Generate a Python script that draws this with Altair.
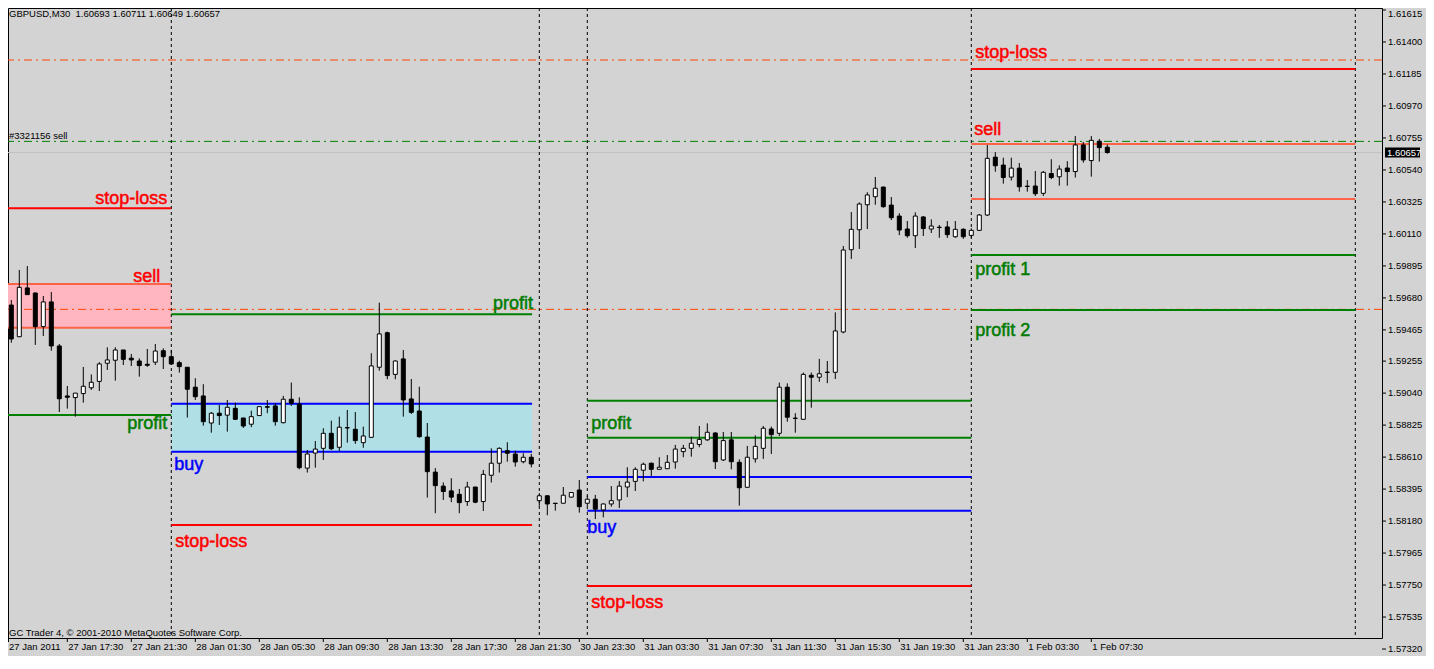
import altair as alt
import pandas as pd

# ---------------- data ----------------
bar_index = list(range(139))
opens = [1.59527, 1.59632, 1.59419, 1.59747, 1.59713, 1.59487, 1.59653, 1.59357, 1.59021, 1.59010,
         1.59037, 1.59076, 1.59119, 1.59241, 1.59261, 1.59330, 1.59275, 1.59256, 1.59234, 1.59248,
         1.59325, 1.59285, 1.59245, 1.59214, 1.59080, 1.59021, 1.58839, 1.58905, 1.58892, 1.58938,
         1.58873, 1.58831, 1.58889, 1.58949, 1.58954, 1.58841, 1.58999, 1.58967, 1.58536, 1.58637,
         1.58669, 1.58770, 1.58676, 1.58808, 1.58797, 1.58707, 1.58743, 1.59214, 1.59446, 1.59166,
         1.59270, 1.59001, 1.58920, 1.58745, 1.58509, 1.58415, 1.58383, 1.58360, 1.58311, 1.58409,
         1.58311, 1.58488, 1.58569, 1.58653, 1.58631, 1.58579, 1.58609, 1.58317, 1.58350, 1.58300,
         1.58300, 1.58341, 1.58389, 1.58300, 1.58327, 1.58255, 1.58295, 1.58322, 1.58409, 1.58447,
         1.58522, 1.58569, 1.58528, 1.58532, 1.58577, 1.58647, 1.58669, 1.58695, 1.58726, 1.58772,
         1.58591, 1.58726, 1.58575, 1.58407, 1.58598, 1.58669, 1.58799, 1.58770, 1.59080, 1.58872,
         1.58864, 1.59160, 1.59147, 1.59181, 1.59180, 1.59451, 1.60004, 1.60138, 1.60306, 1.60360,
         1.60425, 1.60304, 1.60230, 1.60143, 1.60098, 1.60224, 1.60143, 1.60155, 1.60157, 1.60091,
         1.60141, 1.60100, 1.60134, 1.60237, 1.60626, 1.60573, 1.60492, 1.60552, 1.60431, 1.60432,
         1.60383, 1.60516, 1.60494, 1.60553, 1.60529, 1.60708, 1.60603, 1.60733, 1.60693]
highs = [1.59626, 1.59666, 1.59868, 1.59894, 1.59716, 1.59693, 1.59720, 1.59370, 1.59088, 1.59040,
         1.59216, 1.59166, 1.59248, 1.59348, 1.59348, 1.59330, 1.59303, 1.59274, 1.59337, 1.59370,
         1.59341, 1.59330, 1.59258, 1.59214, 1.59140, 1.59100, 1.58913, 1.58960, 1.58994, 1.58976,
         1.58873, 1.58922, 1.58949, 1.58994, 1.58972, 1.59021, 1.59111, 1.59012, 1.58658, 1.58718,
         1.58804, 1.58855, 1.58882, 1.58927, 1.58913, 1.58815, 1.59308, 1.59648, 1.59453, 1.59260,
         1.59330, 1.59135, 1.59083, 1.58839, 1.58536, 1.58440, 1.58468, 1.58396, 1.58444, 1.58409,
         1.58524, 1.58669, 1.58676, 1.58710, 1.58653, 1.58636, 1.58631, 1.58368, 1.58355, 1.58302,
         1.58409, 1.58375, 1.58456, 1.58350, 1.58356, 1.58298, 1.58415, 1.58449, 1.58542, 1.58542,
         1.58573, 1.58573, 1.58609, 1.58624, 1.58692, 1.58692, 1.58747, 1.58819, 1.58837, 1.58778,
         1.58779, 1.58779, 1.58595, 1.58685, 1.58756, 1.58819, 1.58815, 1.59111, 1.59106, 1.58905,
         1.59178, 1.59178, 1.59270, 1.59256, 1.59583, 1.60029, 1.60257, 1.60322, 1.60390, 1.60493,
         1.60428, 1.60358, 1.60249, 1.60197, 1.60255, 1.60230, 1.60208, 1.60170, 1.60197, 1.60197,
         1.60148, 1.60148, 1.60244, 1.60708, 1.60660, 1.60622, 1.60622, 1.60587, 1.60472, 1.60533,
         1.60533, 1.60612, 1.60571, 1.60599, 1.60768, 1.60728, 1.60768, 1.60748, 1.60711]
lows = [1.59444, 1.59379, 1.59417, 1.59700, 1.59364, 1.59424, 1.59325, 1.58913, 1.58936, 1.58882,
        1.58976, 1.59061, 1.59054, 1.59196, 1.59124, 1.59229, 1.59222, 1.59151, 1.59217, 1.59229,
        1.59202, 1.59229, 1.59178, 1.58876, 1.58994, 1.58821, 1.58774, 1.58826, 1.58781, 1.58860,
        1.58806, 1.58811, 1.58887, 1.58905, 1.58821, 1.58837, 1.58954, 1.58528, 1.58506, 1.58539,
        1.58591, 1.58658, 1.58651, 1.58707, 1.58699, 1.58673, 1.58740, 1.59191, 1.59133, 1.59133,
        1.58882, 1.58900, 1.58741, 1.58338, 1.58233, 1.58322, 1.58307, 1.58233, 1.58282, 1.58300,
        1.58248, 1.58439, 1.58506, 1.58579, 1.58546, 1.58568, 1.58541, 1.58282, 1.58219, 1.58250,
        1.58298, 1.58338, 1.58237, 1.58282, 1.58194, 1.58205, 1.58277, 1.58268, 1.58341, 1.58382,
        1.58447, 1.58483, 1.58526, 1.58530, 1.58532, 1.58609, 1.58613, 1.58676, 1.58719, 1.58530,
        1.58584, 1.58528, 1.58284, 1.58405, 1.58573, 1.58598, 1.58631, 1.58752, 1.58848, 1.58774,
        1.58860, 1.58942, 1.59116, 1.59107, 1.59135, 1.59442, 1.59942, 1.60009, 1.60143, 1.60306,
        1.60286, 1.60203, 1.60102, 1.60084, 1.60015, 1.60096, 1.60116, 1.60084, 1.60083, 1.60084,
        1.60077, 1.60083, 1.60130, 1.60230, 1.60528, 1.60448, 1.60469, 1.60394, 1.60394, 1.60365,
        1.60365, 1.60478, 1.60434, 1.60434, 1.60489, 1.60589, 1.60495, 1.60596, 1.60649]
closes = [1.59554, 1.59404, 1.59751, 1.59702, 1.59487, 1.59653, 1.59357, 1.59002, 1.59012, 1.59040,
          1.59086, 1.59113, 1.59236, 1.59263, 1.59330, 1.59267, 1.59263, 1.59225, 1.59227, 1.59323,
          1.59285, 1.59236, 1.59218, 1.59066, 1.59016, 1.58848, 1.58905, 1.58889, 1.58945, 1.58864,
          1.58819, 1.58882, 1.58949, 1.58945, 1.58848, 1.58999, 1.58972, 1.58539, 1.58631, 1.58664,
          1.58770, 1.58666, 1.58811, 1.58806, 1.58721, 1.58752, 1.59223, 1.59438, 1.59158, 1.59256,
          1.58994, 1.58911, 1.58747, 1.58512, 1.58418, 1.58379, 1.58341, 1.58304, 1.58409, 1.58307,
          1.58494, 1.58569, 1.58669, 1.58636, 1.58577, 1.58609, 1.58564, 1.58350, 1.58295, 1.58298,
          1.58354, 1.58372, 1.58277, 1.58327, 1.58260, 1.58295, 1.58317, 1.58415, 1.58442, 1.58528,
          1.58562, 1.58528, 1.58542, 1.58575, 1.58664, 1.58669, 1.58703, 1.58729, 1.58777, 1.58579,
          1.58721, 1.58579, 1.58404, 1.58609, 1.58682, 1.58804, 1.58761, 1.59080, 1.58878, 1.58870,
          1.59166, 1.59147, 1.59170, 1.59179, 1.59458, 1.60002, 1.60141, 1.60311, 1.60372, 1.60417,
          1.60293, 1.60219, 1.60136, 1.60098, 1.60230, 1.60146, 1.60163, 1.60153, 1.60105, 1.60141,
          1.60091, 1.60134, 1.60237, 1.60618, 1.60568, 1.60489, 1.60552, 1.60427, 1.60429, 1.60380,
          1.60524, 1.60489, 1.60546, 1.60529, 1.60708, 1.60607, 1.60739, 1.60690, 1.60657]

time_labels = ["27 Jan 2011", "27 Jan 17:30", "27 Jan 21:30", "28 Jan 01:30", "28 Jan 05:30",
               "28 Jan 09:30", "28 Jan 13:30", "28 Jan 17:30", "28 Jan 21:30", "30 Jan 23:30",
               "31 Jan 03:30", "31 Jan 07:30", "31 Jan 11:30", "31 Jan 15:30", "31 Jan 19:30",
               "31 Jan 23:30", "1 Feb 03:30", "1 Feb 07:30"]
time_label_bars = [0, 8, 16, 24, 32, 40, 48, 56, 64, 72, 80, 88, 96, 104, 112, 120, 128, 136]
price_ticks = [1.61615, 1.61400, 1.61185, 1.60970, 1.60755, 1.60540, 1.60325, 1.60110, 1.59895,
               1.59680, 1.59465, 1.59255, 1.59040, 1.58825, 1.58610, 1.58395, 1.58180, 1.57965,
               1.57750, 1.57535, 1.57320]

# zones (filled bands)
band_start = [0, 21]
band_end = [21, 66.1]
band_top = [1.59773, 1.58969]
band_bottom = [1.59480, 1.58646]
band_kind = ["sell", "buy"]

# level segments
seg_start = [0, 0, 0, 0, 21, 21, 21, 21, 73, 73, 73, 73, 73, 121, 121, 121, 121, 121]
seg_end = [21, 21, 21, 21, 66.1, 66.1, 66.1, 66.1, 121, 121, 121, 121, 121, 169, 169, 169, 169, 169]
seg_price = [1.60282, 1.59773, 1.59480, 1.58893, 1.59570, 1.58969, 1.58646, 1.58154,
             1.58989, 1.58740, 1.58476, 1.58250, 1.57744,
             1.61218, 1.60714, 1.60345, 1.59968, 1.59599]
seg_kind = ["stop", "sell", "sell", "profit", "profit", "buy", "buy", "stop",
            "profit", "profit", "buy", "buy", "stop",
            "stop", "sell", "sell", "profit", "profit"]

# full-width horizontal lines
orange_lines = [1.61279, 1.59603]
order_line = [1.60732]
bid_price = [1.60657]

# vertical separators (bar positions)
separators = [21, 67, 73, 121, 169]

# level labels: text, anchor bar (zone edge), price of its line
label_text = ["stop-loss", "sell", "profit", "profit", "buy", "stop-loss", "profit", "buy",
              "stop-loss", "stop-loss", "sell", "profit 1", "profit 2"]
label_bar = [21, 21, 21, 66.1, 21, 21, 73, 73, 73, 121, 121, 121, 121]
label_price = [1.60282, 1.59773, 1.58893, 1.59570, 1.58646, 1.58154, 1.58740, 1.58250, 1.57744,
               1.61218, 1.60714, 1.59968, 1.59599]
label_kind = ["stop", "stop", "profit", "profit", "buy", "stop", "profit", "buy", "stop",
              "stop", "stop", "profit", "profit"]

# ---------------- styling ----------------
W, H = 1374, 630
BG = "#D3D3D3"
SMALL = "Liberation Sans"
Y_MIN, Y_MAX = 1.573942, 1.616284
xs = alt.Scale(domain=[0.5875, 0.5875 + W / 8.0], nice=False, zero=False, padding=0)
ys = alt.Scale(domain=[Y_MIN, Y_MAX], nice=False, zero=False, padding=0)
kind_scale = alt.Scale(domain=["stop", "sell", "profit", "buy"],
                       range=["#FF0000", "#FF6347", "#008000", "#0000FF"])
label_scale = alt.Scale(domain=["stop", "profit", "buy"], range=["#FF0000", "#007800", "#0000FF"])
# label style: align, dx, dy
label_style = [("right", -4, -4), ("right", -11, -2), ("right", -4, 14), ("right", 1, -5),
               ("left", 3, 18), ("left", 4, 22), ("left", 4, -9), ("left", 0, 22),
               ("left", 4, 22), ("left", 4, -11), ("left", 3, -9), ("left", 4, 20), ("left", 4, 26)]


def X(field):
    return alt.X(field, type="quantitative", scale=xs, axis=None)


def Y(field):
    return alt.Y(field, type="quantitative", scale=ys, axis=None)


candles = pd.DataFrame({"bar": bar_index, "open": opens, "high": highs, "low": lows, "close": closes})
bands = pd.DataFrame({"s": band_start, "e": band_end, "t": band_top, "b": band_bottom, "k": band_kind})
segs = pd.DataFrame({"s": seg_start, "e": seg_end, "p": seg_price, "k": seg_kind})

band_layer = alt.Chart(bands).mark_rect(clip=True).encode(
    x=X("s:Q"), x2="e:Q", y=Y("t:Q"), y2="b:Q",
    fill=alt.Fill("k:N", scale=alt.Scale(domain=["sell", "buy"], range=["#FFB6C1", "#B0E0E6"]), legend=None))

orange_layer = alt.Chart(pd.DataFrame({"p": orange_lines})).mark_rule(
    color="#FF4500", strokeWidth=1, strokeDash=[8, 4, 2, 4], clip=True).encode(y=Y("p:Q"))
order_layer = alt.Chart(pd.DataFrame({"p": order_line})).mark_rule(
    color="#008000", strokeWidth=1, strokeDash=[8, 4, 2, 4], clip=True).encode(y=Y("p:Q"))
bid_layer = alt.Chart(pd.DataFrame({"p": bid_price})).mark_rule(
    color="#C0C0C0", strokeWidth=1, clip=True).encode(y=Y("p:Q"))
sep_layer = alt.Chart(pd.DataFrame({"b": separators})).mark_rule(
    color="black", strokeWidth=1, strokeDash=[3, 3], clip=True).encode(x=X("b:Q"))

seg_layer = alt.Chart(segs).mark_rule(strokeWidth=2, clip=True).encode(
    x=X("s:Q"), x2="e:Q", y=Y("p:Q"),
    color=alt.Color("k:N", scale=kind_scale, legend=None))

wick_layer = alt.Chart(candles).mark_rule(color="black", strokeWidth=1, clip=True).encode(
    x=X("bar:Q"), y=Y("low:Q"), y2="high:Q")
body_layer = alt.Chart(candles).mark_bar(width=4, stroke="black", strokeWidth=1, clip=True).encode(
    x=X("bar:Q"), y=Y("open:Q"), y2="close:Q",
    fill=alt.condition("datum.close >= datum.open", alt.value("white"), alt.value("black")))

label_layers = []
for t, b, p, k, (al, dx, dy) in zip(label_text, label_bar, label_price, label_kind, label_style):
    df = pd.DataFrame({"t": [t], "b": [b], "p": [p], "k": [k]})
    label_layers.append(alt.Chart(df).mark_text(
        align=al, dx=dx, dy=dy, baseline="alphabetic", font="Liberation Sans", fontSize=18,
        strokeWidth=0.5).encode(
        x=X("b:Q"), y=Y("p:Q"), text="t:N",
        color=alt.Color("k:N", scale=label_scale, legend=None),
        stroke=alt.Stroke("k:N", scale=label_scale, legend=None)))

# ----- hand-drawn axes (price axis on the right, time axis at the bottom) -----
ytick_df = pd.DataFrame({"p": price_ticks})
ytick_marks = alt.Chart(ytick_df).mark_rule(
    color="black", strokeWidth=1).encode(x=alt.value(W), x2=alt.value(W + 4), y=Y("p:Q"))
# labels centred on their tick
ytick_text = alt.Chart(ytick_df).transform_filter("datum.p < 1.6155").mark_text(
    align="left", baseline="middle", font=SMALL, fontSize=9.5, color="black").encode(
    x=alt.value(W + 6), y=Y("p:Q"), text=alt.Text("p:Q", format=".5f"))
# the topmost label sits just below its tick so that it is not cut by the top edge
ytick_top = alt.Chart(ytick_df).transform_filter("datum.p >= 1.6155").mark_text(
    align="left", baseline="top", font=SMALL, fontSize=9.5, color="black", dy=-1).encode(
    x=alt.value(W + 6), y=Y("p:Q"), text=alt.Text("p:Q", format=".5f"))

xt_df = pd.DataFrame({"b": time_label_bars[1:], "t": time_labels[1:]})
xtick_marks = alt.Chart(xt_df).mark_rule(color="black", strokeWidth=1).encode(
    x=X("b:Q"), y=alt.value(H), y2=alt.value(H + 4))
xtick_text = alt.Chart(xt_df).mark_text(
    align="left", baseline="top", font=SMALL, fontSize=9.5, color="black", dx=1).encode(
    x=X("b:Q"), y=alt.value(H + 4), text="t:N")
first_label = alt.Chart(pd.DataFrame({"t": time_labels[:1]})).mark_text(
    align="left", baseline="top", font=SMALL, fontSize=9.5, color="black").encode(
    x=alt.value(1), y=alt.value(H + 4), text="t:N")
first_tick = alt.Chart(pd.DataFrame({"t": time_labels[:1]})).mark_rule(color="black").encode(
    x=alt.value(0.5), y=alt.value(H), y2=alt.value(H + 4))

title_layer = alt.Chart(pd.DataFrame({"t": ["GBPUSD,M30\u00a0\u00a01.60693 1.60711 1.60649 1.60657"]})).mark_text(
    align="left", baseline="top", font=SMALL, fontSize=9.5, color="black").encode(
    text="t:N", x=alt.value(1), y=alt.value(1))
copy_layer = alt.Chart(pd.DataFrame({"t": ["GC Trader 4, \u00a9 2001-2010 MetaQuotes Software Corp."]})).mark_text(
    align="left", baseline="alphabetic", font=SMALL, fontSize=9.5, color="black").encode(
    text="t:N", x=alt.value(1), y=alt.value(H - 2))
order_text = alt.Chart(pd.DataFrame({"t": ["#3321156 sell"]})).mark_text(
    align="left", baseline="alphabetic", font=SMALL, fontSize=9.5, color="black").encode(
    text="t:N", x=alt.value(1), y=alt.value(131))

box_shape = "M-1,-0.2857L1,-0.2857L1,0.2857L-1,0.2857Z"
bid_box = alt.Chart(pd.DataFrame({"p": bid_price})).mark_point(
    shape=box_shape, size=35 * 35, filled=True, color="black", opacity=1).encode(
    x=alt.value(W + 20.5), y=Y("p:Q"))
bid_text = alt.Chart(pd.DataFrame({"p": bid_price})).mark_text(
    align="left", baseline="middle", font=SMALL, fontSize=9.5, color="white").encode(
    x=alt.value(W + 5), y=Y("p:Q"), text=alt.Text("p:Q", format=".5f"))

chart = alt.layer(
    band_layer, orange_layer, order_layer, bid_layer, sep_layer, seg_layer,
    wick_layer, body_layer, *label_layers,
    ytick_marks, ytick_text, ytick_top, xtick_marks, xtick_text, first_label, first_tick,
    title_layer, copy_layer, order_text, bid_box, bid_text
).properties(
    width=W, height=H, background=BG,
    autosize=alt.AutoSizeParams(type="none"),
    padding={"left": 0, "top": 0, "right": 44, "bottom": 18},
).configure_view(stroke="black", strokeWidth=1, fill=BG)

chart.save("out.html", embed_options={"renderer": "svg", "actions": False})
